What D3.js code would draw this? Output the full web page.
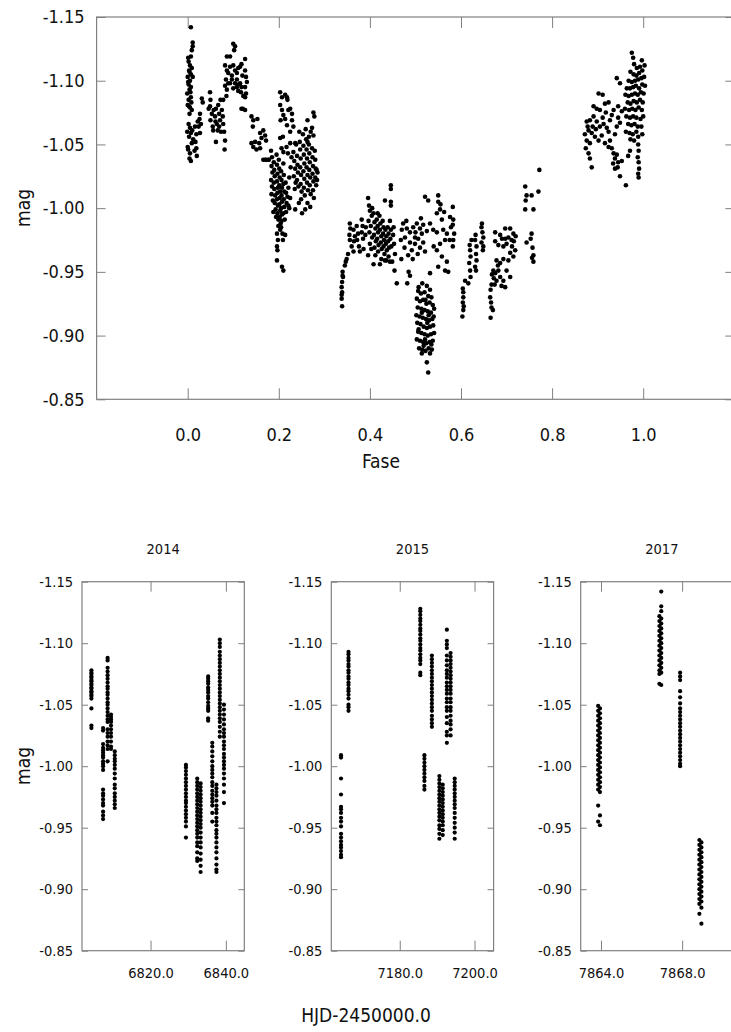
<!DOCTYPE html>
<html>
<head>
<meta charset="utf-8">
<script src="https://cdn.jsdelivr.net/npm/d3@7"></script>
<style>
  html, body { margin: 0; padding: 0; background: #fff; }
  svg { display: block; }
  text { font-family: "DejaVu Sans Condensed", "DejaVu Sans", sans-serif; font-stretch: condensed; fill: #111; }
</style>
</head>
<body>
<svg id="chart" width="731" height="1032"></svg>
<script>
// ---- Phase-folded light curve: [phase, mag] ----
const phasePoints = [
  [0.007,-1.142],[0.011,-1.130],[0.011,-1.127],[0.009,-1.124],[0.007,-1.119],[0.002,-1.115],[0.005,-1.112],[0.009,-1.110],
  [0.004,-1.107],[0.007,-1.105],[0.000,-1.103],[0.011,-1.103],[0.005,-1.100],[0.002,-1.097],[0.007,-1.095],[0.004,-1.093],
  [-0.001,-1.090],[0.007,-1.087],[0.002,-1.085],[0.008,-1.083],[0.000,-1.081],[0.005,-1.079],[0.009,-1.077],[0.004,-1.074],
  [0.001,-1.118],[0.003,-1.108],[0.001,-1.099],[0.006,-1.091],[0.003,-1.080],
  [0.002,-1.066],[0.005,-1.063],[-0.001,-1.060],[0.007,-1.059],[0.003,-1.056],[0.009,-1.051],[0.001,-1.046],[0.005,-1.043],
  [0.004,-1.039],[0.007,-1.037],[0.010,-1.061],[0.012,-1.054],[0.000,-1.048],
  [0.016,-1.064],[0.019,-1.058],[0.017,-1.052],[0.019,-1.047],[0.020,-1.041],[0.015,-1.045],
  [0.031,-1.086],[0.033,-1.083],[0.027,-1.074],[0.026,-1.070],[0.029,-1.066],[0.024,-1.064],[0.027,-1.059],[0.022,-1.068],
  [0.049,-1.091],[0.050,-1.085],[0.049,-1.080],[0.053,-1.074],[0.050,-1.069],[0.055,-1.064],[0.060,-1.072],[0.062,-1.078],
  [0.064,-1.066],[0.067,-1.081],[0.069,-1.074],[0.071,-1.069],[0.069,-1.064],[0.075,-1.077],[0.077,-1.072],[0.078,-1.066],
  [0.080,-1.060],[0.082,-1.053],[0.081,-1.046],[0.062,-1.052],[0.056,-1.061],[0.072,-1.085],[0.078,-1.085],[0.085,-1.088],
  [0.057,-1.077],[0.066,-1.061],[0.073,-1.060],[0.046,-1.078],[0.061,-1.068],
  [0.100,-1.129],[0.104,-1.127],[0.102,-1.124],[0.086,-1.119],[0.093,-1.119],[0.082,-1.112],[0.086,-1.108],[0.089,-1.106],
  [0.093,-1.111],[0.100,-1.112],[0.104,-1.108],[0.108,-1.106],[0.111,-1.110],[0.115,-1.111],[0.118,-1.113],[0.126,-1.117],
  [0.126,-1.108],[0.128,-1.103],[0.130,-1.099],[0.126,-1.095],[0.128,-1.090],[0.118,-1.095],[0.115,-1.098],[0.111,-1.097],
  [0.108,-1.095],[0.104,-1.098],[0.097,-1.101],[0.093,-1.098],[0.089,-1.098],[0.084,-1.101],[0.082,-1.096],[0.086,-1.093],
  [0.100,-1.094],[0.111,-1.092],[0.117,-1.091],[0.122,-1.088],[0.126,-1.087],[0.118,-1.078],[0.126,-1.077],[0.121,-1.078],
  [0.097,-1.104],[0.108,-1.101],[0.120,-1.104],
  [0.140,-1.072],[0.144,-1.069],[0.153,-1.070],[0.143,-1.064],[0.140,-1.051],[0.148,-1.052],[0.144,-1.048],[0.159,-1.059],
  [0.162,-1.055],[0.157,-1.051],[0.166,-1.061],[0.170,-1.057],[0.172,-1.053],[0.159,-1.047],[0.151,-1.046],[0.166,-1.038],
  [0.170,-1.038],[0.177,-1.038],
  [0.172,-1.038],[0.178,-1.038],[0.183,-1.045],[0.185,-1.040],[0.184,-1.033],[0.186,-1.028],[0.183,-1.022],[0.185,-1.017],
  [0.184,-1.011],[0.187,-1.006],[0.189,-1.036],[0.190,-1.030],[0.191,-1.025],[0.189,-1.020],[0.190,-1.015],[0.192,-1.010],
  [0.191,-1.004],[0.193,-0.999],[0.195,-1.042],[0.196,-1.034],[0.197,-1.027],[0.196,-1.021],[0.198,-1.016],[0.197,-1.012],
  [0.196,-1.007],[0.198,-1.002],[0.197,-0.996],[0.199,-0.991],[0.200,-1.038],[0.201,-1.031],[0.202,-1.024],[0.201,-1.018],
  [0.203,-1.013],[0.202,-1.008],[0.201,-1.003],[0.203,-0.998],[0.202,-0.993],[0.204,-0.988],[0.203,-0.983],[0.205,-1.029],
  [0.206,-1.022],[0.207,-1.016],[0.206,-1.010],[0.207,-1.005],[0.205,-1.000],[0.207,-0.995],[0.206,-0.990],[0.205,-0.985],
  [0.208,-0.980],[0.210,-1.035],[0.211,-1.026],[0.210,-1.019],[0.212,-1.013],[0.211,-1.007],[0.212,-1.001],[0.210,-0.996],
  [0.213,-0.991],[0.215,-1.020],[0.216,-1.012],[0.217,-1.004],[0.216,-0.997],[0.219,-1.009],[0.221,-1.016],[0.221,-1.002],
  [0.188,-0.997],[0.194,-0.993],[0.199,-0.986],[0.196,-0.980],[0.198,-0.975],[0.196,-0.970],[0.197,-0.967],[0.196,-0.959],
  [0.207,-0.954],[0.210,-0.951],[0.214,-0.979],[0.209,-0.975],[0.225,-1.008],[0.223,-1.000],
  [0.203,-1.091],[0.207,-1.087],[0.214,-1.089],[0.218,-1.087],[0.219,-1.085],[0.203,-1.081],[0.207,-1.077],[0.210,-1.073],
  [0.204,-1.069],[0.214,-1.070],[0.221,-1.077],[0.225,-1.078],[0.229,-1.074],[0.218,-1.065],[0.209,-1.056],[0.229,-1.069],
  [0.232,-1.064],[0.225,-1.060],[0.203,-1.055],
  [0.206,-1.047],[0.210,-1.044],[0.217,-1.048],[0.225,-1.051],[0.236,-1.051],[0.220,-1.043],[0.228,-1.040],[0.226,-1.032],[0.223,-1.024],
  [0.232,-1.044],[0.234,-1.037],[0.236,-1.031],[0.233,-1.025],[0.237,-1.020],[0.235,-1.015],[0.238,-1.050],[0.240,-1.041],
  [0.241,-1.034],[0.242,-1.028],[0.240,-1.022],[0.243,-1.017],[0.245,-1.060],[0.246,-1.052],[0.247,-1.046],[0.248,-1.039],
  [0.247,-1.032],[0.249,-1.026],[0.248,-1.019],[0.250,-1.013],[0.249,-1.007],[0.251,-0.996],[0.253,-1.058],[0.254,-1.049],
  [0.255,-1.042],[0.256,-1.035],[0.254,-1.029],[0.256,-1.023],[0.255,-1.016],[0.257,-1.010],[0.259,-1.062],[0.260,-1.054],
  [0.261,-1.046],[0.262,-1.039],[0.261,-1.032],[0.263,-1.026],[0.262,-1.020],[0.264,-1.014],[0.263,-1.004],[0.266,-1.050],
  [0.267,-1.043],[0.268,-1.036],[0.267,-1.030],[0.269,-1.024],[0.268,-1.018],[0.270,-1.011],[0.269,-1.001],[0.276,-1.075],
  [0.278,-1.072],[0.263,-1.069],[0.273,-1.063],[0.276,-1.057],[0.263,-1.052],[0.273,-1.047],[0.274,-1.040],[0.275,-1.033],
  [0.274,-1.027],[0.276,-1.021],[0.275,-1.014],[0.277,-1.008],[0.279,-1.045],[0.280,-1.038],[0.281,-1.031],[0.280,-1.024],
  [0.282,-1.018],[0.283,-1.030],[0.284,-1.022],[0.285,-1.028],[0.270,-1.060],[0.266,-1.056],[0.258,-0.999],[0.244,-1.004],
  [0.236,-0.999],
  [0.340,-0.950],[0.341,-0.946],[0.339,-0.942],[0.338,-0.938],[0.339,-0.934],[0.338,-0.929],[0.339,-0.923],[0.345,-0.955],
  [0.349,-0.960],[0.352,-0.964],[0.347,-0.958],[0.340,-0.947],[0.338,-0.932],
  [0.356,-0.988],[0.357,-0.984],[0.355,-0.979],[0.356,-0.975],[0.364,-0.983],[0.367,-0.978],[0.365,-0.974],[0.371,-0.986],
  [0.374,-0.980],[0.372,-0.975],[0.376,-0.970],[0.382,-0.991],[0.384,-0.986],[0.382,-0.981],[0.385,-0.976],[0.386,-0.968],
  [0.364,-0.966],[0.360,-0.970],[0.378,-0.966],[0.391,-0.985],[0.390,-0.979],
  [0.446,-1.018],[0.446,-1.015],[0.433,-1.006],[0.446,-1.005],[0.446,-1.002],[0.396,-1.008],[0.398,-1.002],[0.400,-0.998],
  [0.404,-0.994],[0.397,-0.990],[0.402,-0.986],[0.399,-0.981],[0.405,-0.977],[0.400,-0.972],[0.403,-0.968],[0.408,-0.996],
  [0.410,-0.989],[0.412,-0.984],[0.409,-0.979],[0.413,-0.974],[0.410,-0.969],[0.412,-0.963],[0.415,-0.991],[0.417,-0.986],
  [0.418,-0.981],[0.416,-0.976],[0.419,-0.971],[0.418,-0.966],[0.421,-0.994],[0.423,-0.988],[0.422,-0.983],[0.425,-0.978],
  [0.424,-0.973],[0.426,-0.968],[0.425,-0.960],[0.428,-0.990],[0.430,-0.985],[0.429,-0.980],[0.431,-0.975],[0.430,-0.970],
  [0.432,-0.964],[0.434,-0.983],[0.436,-0.978],[0.435,-0.972],[0.437,-0.967],[0.436,-0.959],[0.439,-0.985],[0.441,-0.980],
  [0.440,-0.974],[0.442,-0.969],[0.441,-0.962],[0.444,-0.990],[0.446,-0.983],[0.445,-0.976],[0.447,-0.970],[0.449,-0.958],
  [0.452,-0.985],[0.451,-0.979],[0.453,-0.972],[0.455,-0.964],[0.408,-0.956],[0.422,-0.956],[0.433,-0.959],[0.444,-0.958],
  [0.454,-0.951],[0.459,-0.941],[0.485,-0.950],[0.488,-0.947],[0.482,-0.941],[0.396,-0.963],[0.417,-0.996],[0.405,-1.000],
  [0.473,-0.988],[0.481,-0.984],[0.488,-0.981],[0.495,-0.985],[0.503,-0.988],[0.510,-0.984],[0.517,-0.987],[0.514,-0.980],
  [0.506,-0.976],[0.499,-0.972],[0.492,-0.967],[0.484,-0.963],[0.469,-0.960],[0.477,-0.977],[0.488,-0.973],[0.499,-0.977],
  [0.510,-0.969],[0.517,-0.973],[0.525,-0.982],[0.470,-0.983],[0.476,-0.969],[0.494,-0.960],[0.505,-0.964],[0.521,-0.966],
  [0.468,-0.975],[0.512,-0.992],[0.500,-0.981],[0.480,-0.990],
  [0.521,-1.009],[0.528,-1.006],[0.550,-1.010],[0.550,-1.005],[0.554,-0.999],[0.547,-0.996],[0.558,-0.991],[0.532,-0.988],
  [0.539,-0.983],[0.547,-0.981],[0.561,-0.983],[0.569,-0.980],[0.565,-0.975],[0.554,-0.972],[0.547,-0.967],[0.558,-0.962],
  [0.569,-0.958],[0.565,-0.951],[0.572,-0.950],[0.550,-0.954],[0.532,-0.949],[0.540,-0.970],[0.575,-0.975],[0.578,-0.985],
  [0.576,-0.993],[0.563,-0.997],[0.555,-1.003],[0.582,-1.001],[0.583,-0.991],[0.582,-0.987],[0.585,-0.980],[0.583,-0.975],[0.582,-0.970],
  [0.515,-0.941],[0.525,-0.939],[0.532,-0.936],[0.506,-0.935],[0.512,-0.933],[0.520,-0.934],[0.528,-0.931],[0.535,-0.930],
  [0.503,-0.929],[0.510,-0.927],[0.517,-0.928],[0.524,-0.925],[0.531,-0.926],[0.538,-0.924],[0.505,-0.922],[0.513,-0.921],
  [0.520,-0.920],[0.527,-0.919],[0.534,-0.918],[0.541,-0.921],[0.502,-0.916],[0.509,-0.915],[0.516,-0.914],[0.523,-0.913],
  [0.530,-0.912],[0.537,-0.913],[0.504,-0.910],[0.511,-0.909],[0.518,-0.907],[0.525,-0.906],[0.532,-0.907],[0.539,-0.908],
  [0.506,-0.903],[0.513,-0.902],[0.520,-0.901],[0.527,-0.900],[0.534,-0.901],[0.541,-0.902],[0.503,-0.897],[0.510,-0.896],
  [0.517,-0.895],[0.524,-0.894],[0.531,-0.895],[0.538,-0.896],[0.508,-0.890],[0.515,-0.889],[0.522,-0.888],[0.529,-0.890],
  [0.536,-0.889],[0.514,-0.886],[0.532,-0.886],[0.525,-0.879],[0.528,-0.871],[0.507,-0.938],[0.522,-0.928],[0.514,-0.918],
  [0.529,-0.916],[0.507,-0.905],[0.521,-0.897],[0.535,-0.893],[0.518,-0.892],[0.526,-0.910],[0.540,-0.915],
  [0.609,-0.943],[0.616,-0.941],[0.605,-0.934],[0.605,-0.930],[0.604,-0.926],[0.605,-0.920],[0.603,-0.915],[0.604,-0.937],[0.606,-0.923],
  [0.623,-0.975],[0.620,-0.967],[0.621,-0.962],[0.618,-0.957],[0.620,-0.951],[0.621,-0.946],[0.631,-0.975],[0.634,-0.970],
  [0.633,-0.964],[0.634,-0.959],[0.631,-0.954],[0.633,-0.951],[0.619,-0.971],[0.632,-0.979],
  [0.645,-0.985],[0.647,-0.981],[0.649,-0.977],[0.645,-0.973],[0.649,-0.970],[0.648,-0.967],[0.646,-0.988],
  [0.667,-0.940],[0.665,-0.936],[0.664,-0.930],[0.667,-0.922],[0.670,-0.920],[0.665,-0.914],[0.666,-0.926],
  [0.675,-0.981],[0.686,-0.979],[0.697,-0.984],[0.708,-0.984],[0.715,-0.980],[0.711,-0.975],[0.700,-0.972],[0.693,-0.970],
  [0.682,-0.971],[0.675,-0.974],[0.719,-0.967],[0.715,-0.962],[0.704,-0.959],[0.693,-0.960],[0.686,-0.957],[0.678,-0.959],
  [0.671,-0.951],[0.675,-0.949],[0.682,-0.951],[0.686,-0.946],[0.693,-0.943],[0.689,-0.939],[0.697,-0.938],[0.708,-0.946],
  [0.678,-0.943],[0.704,-0.977],[0.697,-0.976],[0.690,-0.976],[0.712,-0.970],[0.708,-0.965],[0.668,-0.948],[0.672,-0.945],
  [0.674,-0.940],[0.681,-0.955],[0.700,-0.951],[0.716,-0.974],[0.720,-0.978],
  [0.741,-1.017],[0.742,-1.006],[0.741,-0.999],[0.744,-1.010],[0.755,-1.010],[0.770,-1.013],[0.772,-1.030],[0.759,-0.999],
  [0.755,-0.980],[0.753,-0.976],[0.744,-0.973],[0.757,-0.969],[0.759,-0.963],[0.759,-0.958],[0.756,-0.961],
  [0.902,-1.090],[0.911,-1.089],[0.891,-1.080],[0.898,-1.078],[0.905,-1.077],[0.916,-1.082],[0.924,-1.083],[0.876,-1.068],
  [0.883,-1.069],[0.891,-1.072],[0.898,-1.068],[0.905,-1.064],[0.913,-1.066],[0.920,-1.063],[0.927,-1.069],[0.931,-1.073],
  [0.880,-1.061],[0.887,-1.059],[0.876,-1.053],[0.883,-1.051],[0.894,-1.056],[0.902,-1.053],[0.909,-1.057],[0.924,-1.060],
  [0.880,-1.043],[0.883,-1.039],[0.887,-1.032],[0.924,-1.048],[0.931,-1.047],[0.935,-1.043],[0.938,-1.039],[0.942,-1.042],
  [0.938,-1.031],[0.944,-1.032],[0.945,-1.036],[0.953,-1.037],[0.949,-1.025],[0.934,-1.035],[0.872,-1.058],[0.874,-1.047],
  [0.878,-1.064],[0.889,-1.064],[0.896,-1.062],[0.911,-1.071],[0.918,-1.075],[0.938,-1.058],[0.942,-1.064],[0.945,-1.071],
  [0.949,-1.067],[0.953,-1.076],[0.945,-1.080],[0.935,-1.077],[0.942,-1.102],[0.949,-1.098],[0.927,-1.053],[0.916,-1.051],
  [0.975,-1.122],[0.978,-1.118],[0.980,-1.113],[0.997,-1.116],[0.993,-1.111],[0.986,-1.110],[0.972,-1.107],[0.979,-1.105],
  [0.985,-1.104],[0.991,-1.106],[0.998,-1.108],[1.003,-1.112],[0.968,-1.100],[0.975,-1.099],[0.982,-1.100],[0.989,-1.101],
  [0.996,-1.102],[1.002,-1.103],[0.964,-1.094],[0.971,-1.094],[0.978,-1.095],[0.984,-1.096],[0.991,-1.094],[0.998,-1.097],
  [1.004,-1.096],[0.961,-1.089],[0.968,-1.088],[0.975,-1.089],[0.982,-1.090],[0.988,-1.089],[0.995,-1.091],[1.001,-1.090],
  [0.966,-1.083],[0.972,-1.082],[0.979,-1.084],[0.986,-1.083],[0.993,-1.085],[0.999,-1.083],[0.960,-1.078],[0.969,-1.077],
  [0.976,-1.078],[0.983,-1.077],[0.990,-1.079],[0.997,-1.077],[0.963,-1.072],[0.971,-1.071],[0.978,-1.072],[0.985,-1.071],
  [0.994,-1.070],[1.000,-1.072],[0.967,-1.066],[0.974,-1.065],[0.981,-1.066],[0.988,-1.064],[0.996,-1.064],[0.962,-1.060],
  [0.970,-1.059],[0.977,-1.058],[0.985,-1.060],[0.998,-1.058],[0.972,-1.054],[0.980,-1.053],[0.989,-1.056],
  [0.989,-1.050],[0.990,-1.045],[0.988,-1.040],[0.990,-1.036],[0.991,-1.031],[0.989,-1.027],[0.990,-1.024],
  [0.967,-1.041],[0.962,-1.018],[0.971,-1.045]
];

// ---- Time series per season: each night = { hjd, mags } ----
const season2014 = [
  { hjd: 6804.3, mags: [-1.078,-1.076,-1.075,-1.073,-1.072,-1.070,-1.069,-1.067,-1.066,-1.064,-1.063,-1.061,-1.060,-1.058,-1.057,-1.055,-1.047,-1.033,-1.031] },
  { hjd: 6807.4, mags: [-1.031,-1.029,-1.018,-1.015,-1.013,-1.011,-1.009,-1.007,-1.004,-1.002,-1.000,-0.997,-0.981,-0.978,-0.976,-0.973,-0.970,-0.968,-0.963,-0.960,-0.957] },
  { hjd: 6808.6, mags: [-1.088,-1.086,-1.080,-1.077,-1.074,-1.071,-1.068,-1.065,-1.063,-1.060,-1.058,-1.055,-1.052,-1.050,-1.047,-1.044,-1.041,-1.038,-1.036,-1.030,-1.027,-1.024,-1.020,-1.017,-1.014,-1.004] },
  { hjd: 6809.5, mags: [-1.042,-1.040,-1.038,-1.036,-1.033,-1.030,-1.027,-1.024,-1.020,-1.016,-1.014] },
  { hjd: 6810.5, mags: [-1.012,-1.009,-1.006,-1.004,-1.001,-0.998,-0.994,-0.990,-0.985,-0.982,-0.978,-0.975,-0.972,-0.969,-0.966] },
  { hjd: 6829.4, mags: [-1.001,-0.999,-0.996,-0.993,-0.990,-0.987,-0.984,-0.981,-0.978,-0.975,-0.972,-0.970,-0.967,-0.964,-0.961,-0.958,-0.955,-0.951,-0.942] },
  { hjd: 6832.4, mags: [-0.990,-0.987,-0.984,-0.981,-0.978,-0.975,-0.972,-0.969,-0.966,-0.963,-0.960,-0.957,-0.954,-0.951,-0.948,-0.945,-0.942,-0.938,-0.935,-0.930,-0.925,-0.923] },
  { hjd: 6833.3, mags: [-0.986,-0.983,-0.980,-0.977,-0.974,-0.971,-0.968,-0.965,-0.962,-0.959,-0.956,-0.953,-0.950,-0.946,-0.942,-0.938,-0.934,-0.929,-0.924,-0.919,-0.914] },
  { hjd: 6835.3, mags: [-1.073,-1.071,-1.069,-1.067,-1.064,-1.062,-1.060,-1.057,-1.055,-1.052,-1.049,-1.047,-1.045,-1.039,-1.037] },
  { hjd: 6836.4, mags: [-1.019,-1.016,-1.012,-1.008,-1.004,-1.000,-0.997,-0.994,-0.991,-0.987,-0.984,-0.980,-0.977,-0.974,-0.971,-0.968,-0.962,-0.955] },
  { hjd: 6837.5, mags: [-0.985,-0.982,-0.979,-0.976,-0.972,-0.968,-0.965,-0.962,-0.958,-0.955,-0.952,-0.948,-0.945,-0.942,-0.938,-0.934,-0.930,-0.925,-0.920,-0.916,-0.914] },
  { hjd: 6838.4, mags: [-1.103,-1.100,-1.097,-1.093,-1.090,-1.087,-1.084,-1.081,-1.078,-1.075,-1.072,-1.069,-1.066,-1.063,-1.060,-1.057,-1.054,-1.051,-1.048,-1.045,-1.042,-1.039,-1.036,-1.032,-1.028,-1.024] },
  { hjd: 6839.5, mags: [-1.050,-1.046,-1.042,-1.038,-1.034,-1.030,-1.027,-1.024,-1.020,-1.017,-1.014,-1.010,-1.007,-1.004,-1.001,-0.998,-0.994,-0.990,-0.985,-0.979,-0.970] }
];

const season2015 = [
  { hjd: 7164.3, mags: [-1.009,-1.007,-0.990,-0.977,-0.967,-0.965,-0.962,-0.958,-0.955,-0.951,-0.945,-0.942,-0.939,-0.936,-0.934,-0.931,-0.928,-0.926] },
  { hjd: 7166.3, mags: [-1.093,-1.091,-1.088,-1.086,-1.083,-1.081,-1.078,-1.076,-1.073,-1.071,-1.068,-1.066,-1.063,-1.061,-1.058,-1.055,-1.050,-1.048,-1.045] },
  { hjd: 7185.5, mags: [-1.128,-1.126,-1.123,-1.120,-1.118,-1.115,-1.112,-1.110,-1.107,-1.104,-1.102,-1.099,-1.096,-1.094,-1.091,-1.088,-1.086,-1.083,-1.076,-1.074] },
  { hjd: 7186.6, mags: [-1.009,-1.006,-1.003,-1.000,-0.997,-0.994,-0.991,-0.988,-0.984,-0.981] },
  { hjd: 7188.6, mags: [-1.090,-1.087,-1.084,-1.081,-1.078,-1.075,-1.072,-1.069,-1.066,-1.063,-1.060,-1.057,-1.054,-1.051,-1.048,-1.045,-1.041,-1.038,-1.035,-1.032] },
  { hjd: 7190.6, mags: [-0.992,-0.989,-0.986,-0.983,-0.980,-0.977,-0.974,-0.971,-0.968,-0.965,-0.962,-0.959,-0.956,-0.952,-0.949,-0.945,-0.941] },
  { hjd: 7191.5, mags: [-0.985,-0.982,-0.979,-0.976,-0.973,-0.970,-0.967,-0.964,-0.961,-0.958,-0.955,-0.952,-0.948,-0.944] },
  { hjd: 7192.6, mags: [-1.111,-1.102,-1.099,-1.096,-1.090,-1.086,-1.082,-1.078,-1.075,-1.072,-1.068,-1.065,-1.062,-1.059,-1.055,-1.052,-1.048,-1.045,-1.040,-1.035,-1.028,-1.025,-1.019] },
  { hjd: 7193.6, mags: [-1.092,-1.089,-1.086,-1.083,-1.080,-1.077,-1.074,-1.071,-1.068,-1.065,-1.062,-1.059,-1.055,-1.052,-1.048,-1.045,-1.041,-1.037,-1.034,-1.030,-1.025] },
  { hjd: 7194.7, mags: [-0.990,-0.987,-0.984,-0.981,-0.978,-0.975,-0.972,-0.969,-0.966,-0.962,-0.958,-0.954,-0.950,-0.946,-0.941] }
];

const season2017 = [
  { hjd: 7863.86, mags: [-1.049,-1.045,-1.041,-1.037,-1.033,-1.029,-1.025,-1.021,-1.017,-1.013,-1.009,-1.005,-1.001,-0.997,-0.993,-0.989,-0.985,-0.981,-0.968,-0.955] },
  { hjd: 7863.95, mags: [-1.047,-1.043,-1.039,-1.035,-1.031,-1.027,-1.023,-1.019,-1.015,-1.011,-1.007,-1.003,-0.999,-0.995,-0.991,-0.987,-0.983,-0.979,-0.960,-0.952] },
  { hjd: 7866.88, mags: [-1.122,-1.118,-1.114,-1.110,-1.106,-1.102,-1.098,-1.094,-1.090,-1.086,-1.082,-1.078,-1.075,-1.067] },
  { hjd: 7866.97, mags: [-1.142,-1.130,-1.126,-1.120,-1.116,-1.112,-1.108,-1.104,-1.100,-1.096,-1.092,-1.088,-1.084,-1.080,-1.076,-1.066] },
  { hjd: 7867.90, mags: [-1.076,-1.073,-1.070,-1.061,-1.056,-1.051,-1.047,-1.044,-1.041,-1.038,-1.035,-1.032,-1.029,-1.026,-1.023,-1.020,-1.017,-1.014,-1.011,-1.008,-1.005,-1.002,-1.000] },
  { hjd: 7868.85, mags: [-0.940,-0.936,-0.932,-0.928,-0.924,-0.920,-0.916,-0.912,-0.908,-0.904,-0.900,-0.896,-0.892,-0.888,-0.880] },
  { hjd: 7868.95, mags: [-0.938,-0.934,-0.930,-0.926,-0.922,-0.918,-0.914,-0.910,-0.906,-0.902,-0.898,-0.894,-0.890,-0.885,-0.872] }
];

// ---- Axis settings ----
const magDomain = [-1.15, -0.85];
const magTicks = [-1.15, -1.10, -1.05, -1.00, -0.95, -0.90, -0.85];
const phaseDomain = [-0.2, 1.2];
const phaseTicks = [0.0, 0.2, 0.4, 0.6, 0.8, 1.0];
const seasonTitles = ["2014", "2015", "2017"];
const seasonDomains = [[6801.8, 6844.9], [7161.7, 7205.1], [7863.0, 7871.0]];
const seasonTicks = [[6820, 6840], [7180, 7200], [7864, 7868]];

const svg = d3.select("#chart");
const frameColor = "#808080";

function styleAxis(g) {
  g.select(".domain").remove();
  g.selectAll(".tick line").attr("stroke", frameColor).attr("stroke-width", 1);
  g.selectAll(".tick text").attr("fill", "#111");
}

function drawPanel(opts) {
  const { x, y, xTicks, fontSize, xTickLen, yTickLen, xPad, yPad, points, r } = opts;
  const [x0, x1] = x.range();
  const [y0, y1] = y.range();
  const g = svg.append("g");

  const fmtX = d => d.toFixed(1);
  const fmtY = d => d.toFixed(2);

  g.append("g").attr("transform", `translate(0,${y1})`)
    .call(d3.axisBottom(x).tickValues(xTicks).tickSize(-xTickLen).tickSizeOuter(0).tickPadding(xPad).tickFormat(fmtX))
    .call(styleAxis).attr("font-size", fontSize).attr("font-family", null);
  g.append("g").attr("transform", `translate(0,${y0})`)
    .call(d3.axisTop(x).tickValues(xTicks).tickSize(-xTickLen).tickSizeOuter(0).tickFormat(""))
    .call(styleAxis);
  g.append("g").attr("transform", `translate(${x0},0)`)
    .call(d3.axisLeft(y).tickValues(magTicks).tickSize(-yTickLen).tickSizeOuter(0).tickPadding(yPad).tickFormat(fmtY))
    .call(styleAxis).attr("font-size", fontSize).attr("font-family", null);
  g.append("g").attr("transform", `translate(${x1},0)`)
    .call(d3.axisRight(y).tickValues(magTicks).tickSize(-yTickLen).tickSizeOuter(0).tickFormat(""))
    .call(styleAxis);

  g.append("rect")
    .attr("x", x0).attr("y", y0).attr("width", x1 - x0).attr("height", y1 - y0)
    .attr("fill", "none").attr("stroke", frameColor).attr("stroke-width", 1.2);

  g.append("g").selectAll("circle").data(points).join("circle")
    .attr("cx", d => x(d[0])).attr("cy", d => y(d[1])).attr("r", r).attr("fill", "#000");
  return g;
}

// ---- Top: phase diagram ----
const xPhase = d3.scaleLinear().domain(phaseDomain).range([96.6, 734.3]);
const yTop = d3.scaleLinear().domain(magDomain).range([17, 399.3]);
drawPanel({ x: xPhase, y: yTop, xTicks: phaseTicks, fontSize: 18, xTickLen: 11, yTickLen: 9,
            xPad: 29, yPad: 12, points: phasePoints, r: 2.3 });

svg.append("text").attr("x", 381).attr("y", 468).attr("text-anchor", "middle")
  .attr("font-size", 19).text("Fase");
svg.append("text").attr("transform", "translate(30,208) rotate(-90)").attr("text-anchor", "middle")
  .attr("font-size", 19).text("mag");

// ---- Bottom: one panel per season ----
const yBottom = d3.scaleLinear().domain(magDomain).range([581.7, 950.7]);
const panelLefts = [82, 331.3, 580.7];
const panelWidth = 162.3;
[season2014, season2015, season2017].forEach((nights, i) => {
  const x = d3.scaleLinear().domain(seasonDomains[i]).range([panelLefts[i], panelLefts[i] + panelWidth]);
  const pts = nights.flatMap(n => n.mags.map(m => [n.hjd, m]));
  drawPanel({ x, y: yBottom, xTicks: seasonTicks[i], fontSize: 14.5, xTickLen: 10, yTickLen: 6,
              xPad: 17, yPad: 9, points: pts, r: 2.1 });
  svg.append("text").attr("x", panelLefts[i] + panelWidth / 2).attr("y", 554)
    .attr("text-anchor", "middle").attr("font-size", 14.5).text(seasonTitles[i]);
});

svg.append("text").attr("transform", "translate(30,766) rotate(-90)").attr("text-anchor", "middle")
  .attr("font-size", 19).text("mag");
svg.append("text").attr("x", 366).attr("y", 1022).attr("text-anchor", "middle")
  .attr("font-size", 19).text("HJD-2450000.0");
</script>
</body>
</html>
